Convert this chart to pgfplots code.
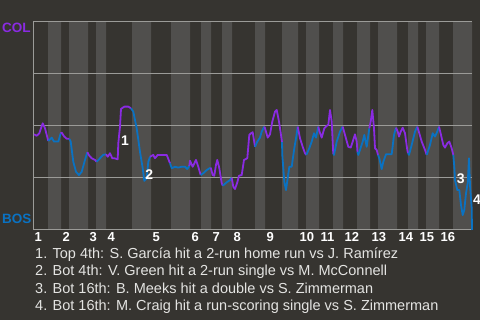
\documentclass[border=0pt]{standalone}
\usepackage{fontspec}
\setmainfont{Liberation Sans}
\usepackage{pgfplots}
\pgfplotsset{compat=1.18}
\definecolor{bgc}{RGB}{54,52,48}
\definecolor{band}{RGB}{80,79,77}
\definecolor{gridc}{RGB}{155,155,152}
\definecolor{colp}{RGB}{138,43,226}
\definecolor{bosb}{RGB}{10,114,194}
\definecolor{txt}{RGB}{228,228,226}
\begin{document}
\begin{tikzpicture}
\node[anchor=west, text=colp, font=\fontsize{13.5}{14}\selectfont\bfseries, inner sep=0pt] at (2pt,292pt) {COL};
\node[anchor=west, text=bosb, font=\fontsize{13.5}{14}\selectfont\bfseries, inner sep=0pt] at (2pt,101pt) {BOS};
\begin{axis}[
  at={(33pt,90pt)}, anchor=south west,
  scale only axis, width=439pt, height=208pt,
  xmin=33, xmax=472, ymin=0, ymax=100,
  axis x line*=bottom, axis y line*=left,
  axis line style={gridc, line width=1pt},
  ytick={0,25,50,75,100}, yticklabels={},
  ymajorgrids, grid style={gridc, line width=1pt},
  major tick length=0pt,
  xtick={33,61,88,106,151,190,211,232,265,298,319,343,370,397,418,439},
  xticklabels={1,2,3,4,5,6,7,8,9,10,11,12,13,14,15,16},
  xticklabel style={anchor=north west, inner sep=0pt, yshift=-2.3pt, xshift=1.5pt,
    font=\fontsize{13}{13}\selectfont\bfseries, text=white},
  /pgf/number format/assume math mode=true,
  set layers, clip=false,
  every axis plot/.append style={line width=1.8pt, line join=round},
]
\begin{pgfonlayer}{axis background}
\fill[bgc] (rel axis cs:0,0) ++(-33pt,-90pt) rectangle ++(480pt,320pt);
\end{pgfonlayer}
\addplot[const plot, fill=band, draw=none, on layer=axis background] coordinates {
(33,0)(48,100)(61,0)(69,100)(88,0)(96,100)(106,0)(132,100)(151,0)(171,100)(190,0)(201,100)(211,0)(222,100)(232,0)(255,100)(265,0)(282,100)(298,0)(306,100)(319,0)(333,100)(343,0)(357,100)(370,0)(378,100)(397,0)(408,100)(418,0)(426,100)(439,0)(453,100)(472,100)} \closedcycle;
% Top 1
\addplot[colp] coordinates {(34,46.0)(36.7,45.3)(39.3,46.5)(42.7,51.3)(45,48.9)(48.3,42.8)};
\addplot[bosb] coordinates {(48.3,42.8)(51.7,44.4)(54,42.5)(58.3,42.5)(60.7,46.5)};
% Inning 2
\addplot[colp] coordinates {(60.7,46.5)(61.7,46.8)(64.3,44.9)(66.7,43.9)(69.3,43.8)};
\addplot[bosb] coordinates {(69.3,43.8)(70.7,42.5)(73.3,32.8)(76,28.0)(79,26.4)(81.7,28.0)(85,33.7)(87.3,37.4)};
% Inning 3
\addplot[colp] coordinates {(87.3,37.4)(89.3,35.7)(91.7,34.5)(95,33.7)(96.7,32.8)};
\addplot[bosb] coordinates {(96.7,32.8)(100,34.5)(103.3,36.1)(106,36.4)};
% Inning 4
\addplot[colp] coordinates {(106,36.4)(107.7,35.2)(110,36.9)(112.3,34.5)(114.3,34.5)(117.7,34.0)(118.3,41.7)(120,49.7)(121,58.2)(124.3,59.3)(128.3,59.3)(131,58.5)};
\addplot[bosb] coordinates {(131,58.5)(133.3,56.9)(136.7,48.9)(140,37.6)(142.7,29.7)(144.3,23.6)(146.7,24.9)(148.3,32.8)(150,35.2)};
% Inning 5
\addplot[colp] coordinates {(150,35.2)(153.3,36.1)(155,34.5)(157.7,36.1)(166.7,36.1)(170,32.1)};
\addplot[bosb] coordinates {(170,32.1)(171.7,29.7)(175,30.4)(178.3,30.0)(181.7,30.4)(185,30.4)(187.3,29.3)(189.3,30.8)};
% Inning 6
\addplot[colp] coordinates {(189.3,30.8)(190,33.3)(192.7,30.4)(196,33.7)(198.3,30.4)(200.7,26.4)};
\addplot[bosb] coordinates {(200.7,26.4)(203.3,27.3)(206.7,28.8)(210.7,30.0)};
% Inning 7
\addplot[colp] coordinates {(210.7,30.0)(212.7,26.4)(214.3,26.1)(216,31.3)(217.3,33.7)(219.3,29.7)(221.7,22.5)(222.7,21.3)};
\addplot[bosb] coordinates {(222.7,21.3)(226.7,22.9)(230,24.0)(231.7,25.1)};
% Inning 8
\addplot[colp] coordinates {(231.7,25.1)(233.3,20.8)(235,19.7)(237.3,22.9)(239,26.1)(241.7,26.4)(244,33.7)(247.3,34.5)(249.3,45.7)(251,46.5)(252.7,47.0)(255,40.0)};
\addplot[bosb] coordinates {(255,40.0)(257.3,42.5)(260,44.4)(261.7,47.3)(264.3,49.7)};
% Inning 9
\addplot[colp] coordinates {(264.3,49.7)(265,48.9)(267.7,44.4)(270,46.0)(272.3,52.1)(275,56.9)(276.7,57.7)(279,52.1)(281,45.7)(282,42.3)};
\addplot[bosb] coordinates {(282,42.3)(282.3,36.1)(284.3,23.2)(286,19.2)(287.7,24.9)(289.3,30.4)(291.7,30.4)(294.3,39.3)(296.3,44.9)(297.7,49.7)};
% Inning 10
\addplot[colp] coordinates {(297.7,49.7)(300,44.1)(302.7,40.0)(305,36.9)(306.3,36.1)};
\addplot[bosb] coordinates {(306.3,36.1)(309.3,39.3)(311.7,42.5)(314,46.5)(316,44.4)(318.3,49.7)};
% Inning 11
\addplot[colp] coordinates {(318.3,49.7)(319.3,47.6)(321.7,44.4)(324.3,48.9)(326.7,50.1)(328.3,50.5)(330,57.7)(331.7,52.1)(333.3,36.5)};
\addplot[bosb] coordinates {(333.3,36.5)(334,36.1)(336.7,42.5)(340,47.3)(342.7,49.7)};
% Inning 12
\addplot[colp] coordinates {(342.7,49.7)(345,45.7)(348.3,40.0)(350.7,39.6)(352.7,42.5)(355,46.0)(356.7,42.5)(357.5,37.5)};
\addplot[bosb] coordinates {(357.5,37.5)(358.3,36.1)(360,38.5)(362.7,42.5)(364.3,45.7)(366.7,40.0)(369.3,48.9)};
% Inning 13
\addplot[colp] coordinates {(369.3,48.9)(370.7,52.1)(372.3,57.7)(374,48.9)(375,39.3)(376.7,38.5)(378,36.1)};
\addplot[bosb] coordinates {(378,36.1)(379.3,34.5)(381.7,29.3)(383.3,32.8)(386,36.4)(391.7,36.4)(394,45.7)(396,49.2)};
% Inning 14
\addplot[colp] coordinates {(396,49.2)(397.7,47.3)(399,44.9)(400.7,47.3)(402.7,49.2)(405,46.5)(407.3,38.5)(408,37.0)};
\addplot[bosb] coordinates {(408,37.0)(409,36.1)(411.7,40.9)(415,47.3)(417.3,49.7)};
% Inning 15
\addplot[colp] coordinates {(417.3,49.7)(419.3,46.5)(421.7,42.5)(425,38.5)(426.7,36.1)};
\addplot[bosb] coordinates {(426.7,36.1)(430,40.9)(432.7,46.5)(435,44.9)(437.3,47.3)(439,49.7)};
% Inning 16
\addplot[colp] coordinates {(439,49.7)(441,45.7)(443.3,40.9)(445,39.6)(447.3,41.7)(449.3,42.5)(451.7,39.3)(453.3,36.1)};
\addplot[bosb] coordinates {(453.3,36.1)(454.3,30.4)(455,24.0)(457.3,19.2)(459.3,19.2)(461,12.0)(462.7,7.2)(464.3,9.6)(466,17.6)(467.7,22.5)(469,34.5)(470,21.6)(471.7,10.4)(472,0)};
% annotations
\node[text=white, font=\fontsize{14}{14}\selectfont\bfseries, inner sep=0pt] at (axis cs:125,42.8) {1};
\node[text=white, font=\fontsize{14}{14}\selectfont\bfseries, inner sep=0pt] at (axis cs:149.3,26.8) {2};
\node[text=white, font=\fontsize{14}{14}\selectfont\bfseries, inner sep=0pt] at (axis cs:460.7,24.9) {3};
\node[text=white, font=\fontsize{14}{14}\selectfont\bfseries, inner sep=0pt, anchor=west] at (axis cs:473,14.4) {4};
\end{axis}
\begin{scope}[every node/.style={anchor=base west, inner sep=0pt, text=txt, font=\fontsize{14.5}{15}\selectfont}]
\node at (35pt,61.7pt) {1. Top 4th: S. García hit a 2-run home run vs J. Ramírez};
\node at (35pt,44.3pt) {2. Bot 4th: V. Green hit a 2-run single vs M. McConnell};
\node at (35pt,26.7pt) {3. Bot 16th: B. Meeks hit a double vs S. Zimmerman};
\node at (35pt,9.0pt) {4. Bot 16th: M. Craig hit a run-scoring single vs S. Zimmerman};
\end{scope}
\pgfresetboundingbox
\useasboundingbox (0pt,0pt) rectangle (480pt,320pt);
\end{tikzpicture}
\end{document}
